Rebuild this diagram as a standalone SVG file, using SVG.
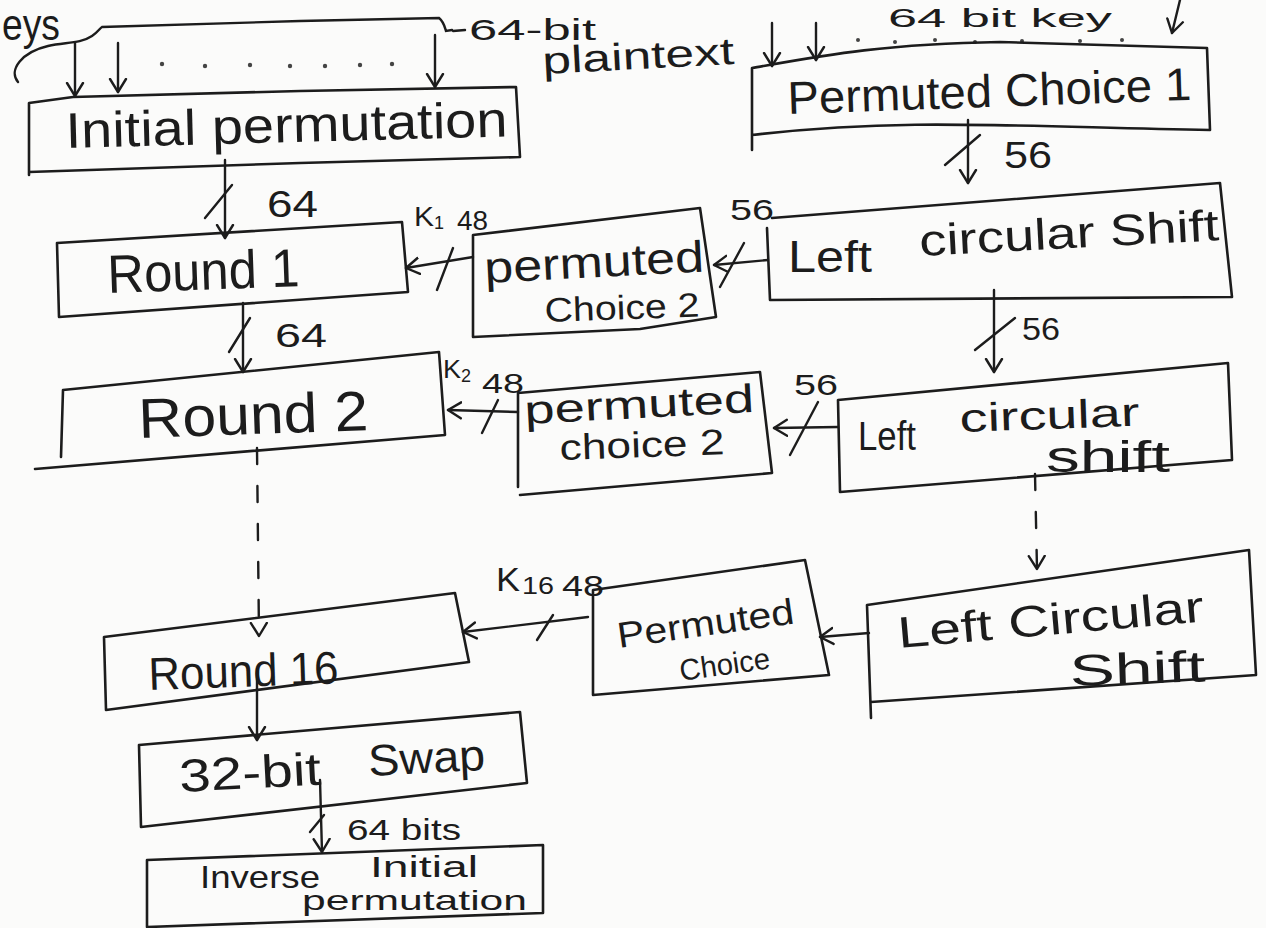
<svg xmlns="http://www.w3.org/2000/svg" width="1266" height="928" viewBox="0 0 1266 928">
  <defs>
    <marker id="arr" viewBox="-14 -10 16 20" markerWidth="16" markerHeight="20" refX="0" refY="0" orient="auto" markerUnits="userSpaceOnUse">
      <path d="M-13,-8 L0,0 L-13,8" fill="none" stroke="#1c1c1c" stroke-width="2.4" stroke-linecap="round" stroke-linejoin="round"/>
    </marker>
    <style>
      .box { fill: none; stroke: #1c1c1c; stroke-width: 2.6; stroke-linejoin: round; stroke-linecap: round; }
      .ln { fill: none; stroke: #1c1c1c; stroke-width: 2.4; stroke-linecap: round; }
      .dash { fill: none; stroke: #1c1c1c; stroke-width: 2.4; stroke-dasharray: 16 22; stroke-linecap: round; }
      .t { font-family: "Liberation Sans", "DejaVu Sans", sans-serif; fill: #1c1c1c; }
      .dot { fill: #444; }
    </style>
  </defs>

  <rect width="1266" height="928" fill="#fbfbfa"/>

  <!-- plaintext input and its bit lines -->
  <g id="plaintext-input">
    <text class="t" x="2" y="40" font-size="44" textLength="58" lengthAdjust="spacingAndGlyphs">eys</text>
    <path class="ln" d="M18,82 C8,70 22,52 48,46 C66,42 80,44 92,36 C98,32 100,28 102,27 L300,21 L439,18 C444,22 445,28 446,31 L452,30"/>
    <path class="ln" d="M453,31 L465,30"/>
    <text class="t" x="469" y="40" font-size="30" textLength="127" lengthAdjust="spacingAndGlyphs">64-bit</text>
    <text class="t" x="543" y="74" font-size="38" textLength="192" lengthAdjust="spacingAndGlyphs" transform="rotate(-3 543 74)">plaintext</text>
    <circle class="dot" cx="162" cy="64" r="2.2"/>
    <circle class="dot" cx="205" cy="66" r="2.2"/>
    <circle class="dot" cx="250" cy="65" r="2.2"/>
    <circle class="dot" cx="290" cy="66" r="2.2"/>
    <circle class="dot" cx="325" cy="66" r="2.2"/>
    <circle class="dot" cx="360" cy="65" r="2.2"/>
    <circle class="dot" cx="392" cy="64" r="2.2"/>
  </g>

  <!-- key input -->
  <g id="key-input">
    <text class="t" x="888" y="27" font-size="26" textLength="224" lengthAdjust="spacingAndGlyphs">64 bit key</text>
    <circle class="dot" cx="858" cy="40" r="2"/>
    <circle class="dot" cx="895" cy="42" r="2"/>
    <circle class="dot" cx="935" cy="40" r="2"/>
    <circle class="dot" cx="975" cy="42" r="2"/>
    <circle class="dot" cx="1022" cy="41" r="2"/>
    <circle class="dot" cx="1080" cy="41" r="2"/>
    <circle class="dot" cx="1122" cy="40" r="2"/>
  </g>

  <g id="initial-permutation">
    <path class="box" d="M29,175 L29,103 L73,97 L300,91 L516,87 L520,157 L300,163 L29,172"/>
    <text class="t" x="66" y="148" font-size="50" textLength="442" lengthAdjust="spacingAndGlyphs" transform="rotate(-1.5 66 148)">Initial permutation</text>
  </g>

  <g id="permuted-choice-1">
    <path class="box" d="M752,150 L752,68 C820,56 880,44 1000,42 L1207,48 L1210,130 C1000,126 900,118 752,135"/>
    <text class="t" x="788" y="114" font-size="46" textLength="404" lengthAdjust="spacingAndGlyphs" transform="rotate(-2 788 114)">Permuted Choice 1</text>
  </g>

  <g id="round-1">
    <path class="box" d="M57,243 L402,222 L408,292 L59,317 Z"/>
    <text class="t" x="108" y="293" font-size="54" textLength="192" lengthAdjust="spacingAndGlyphs" transform="rotate(-2 108 293)">Round 1</text>
  </g>

  <g id="permuted-choice-2a">
    <path class="box" d="M473,337 L473,235 L700,208 L716,317 L640,329 Z"/>
    <text class="t" x="485" y="283" font-size="44" textLength="220" lengthAdjust="spacingAndGlyphs" transform="rotate(-3 485 283)">permuted</text>
    <text class="t" x="545" y="322" font-size="34" textLength="155" lengthAdjust="spacingAndGlyphs" transform="rotate(-2 545 322)">Choice 2</text>
  </g>

  <g id="left-circular-shift-1">
    <path class="box" d="M767,228 L770,300 L1232,297 L1220,183 L772,218"/>
    <text class="t" x="788" y="272" font-size="44" textLength="84" lengthAdjust="spacingAndGlyphs">Left</text>
    <text class="t" x="920" y="256" font-size="44" textLength="300" lengthAdjust="spacingAndGlyphs" transform="rotate(-3 920 256)">circular Shift</text>
  </g>

  <g id="round-2">
    <path class="box" d="M61,457 L63,390 L439,352 L445,435 L35,469"/>
    <text class="t" x="139" y="438" font-size="56" textLength="230" lengthAdjust="spacingAndGlyphs" transform="rotate(-2 139 438)">Round 2</text>
  </g>

  <g id="permuted-choice-2b">
    <path class="box" d="M518,487 L518,393 L760,372 L772,473 L520,495"/>
    <text class="t" x="525" y="424" font-size="40" textLength="230" lengthAdjust="spacingAndGlyphs" transform="rotate(-3 525 424)">permuted</text>
    <text class="t" x="560" y="460" font-size="36" textLength="165" lengthAdjust="spacingAndGlyphs" transform="rotate(-2 560 460)">choice 2</text>
  </g>

  <g id="left-circular-shift-2">
    <path class="box" d="M838,400 L1228,363 L1232,460 L840,492 Z"/>
    <text class="t" x="858" y="450" font-size="40" textLength="58" lengthAdjust="spacingAndGlyphs">Left</text>
    <text class="t" x="960" y="432" font-size="40" textLength="180" lengthAdjust="spacingAndGlyphs" transform="rotate(-2 960 432)">circular</text>
    <text class="t" x="1046" y="472" font-size="44" textLength="124" lengthAdjust="spacingAndGlyphs">shift</text>
  </g>

  <g id="round-16">
    <path class="box" d="M104,637 L455,593 L469,662 L106,710 Z"/>
    <text class="t" x="149" y="690" font-size="46" textLength="190" lengthAdjust="spacingAndGlyphs" transform="rotate(-2 149 690)">Round 16</text>
  </g>

  <g id="permuted-choice-16">
    <path class="box" d="M593,695 L593,590 L805,560 L829,675 Z"/>
    <text class="t" x="619" y="648" font-size="36" textLength="178" lengthAdjust="spacingAndGlyphs" transform="rotate(-8 619 648)">Permuted</text>
    <text class="t" x="681" y="681" font-size="30" textLength="91" lengthAdjust="spacingAndGlyphs" transform="rotate(-8 681 681)">Choice</text>
  </g>

  <g id="left-circular-shift-16">
    <path class="box" d="M871,718 L867,605 L1249,550 L1256,675 L871,702"/>
    <text class="t" x="899" y="648" font-size="44" textLength="307" lengthAdjust="spacingAndGlyphs" transform="rotate(-5 899 648)">Left Circular</text>
    <text class="t" x="1070" y="686" font-size="44" textLength="136" lengthAdjust="spacingAndGlyphs" transform="rotate(-2 1070 686)">Shift</text>
  </g>

  <g id="swap-32bit">
    <path class="box" d="M139,745 L520,712 L527,783 L141,827 Z"/>
    <text class="t" x="180" y="792" font-size="46" textLength="142" lengthAdjust="spacingAndGlyphs" transform="rotate(-3 180 792)">32-bit</text>
    <text class="t" x="369" y="776" font-size="44" textLength="117" lengthAdjust="spacingAndGlyphs" transform="rotate(-3 369 776)">Swap</text>
  </g>

  <g id="inverse-initial-permutation">
    <path class="box" d="M147,860 L543,845 L543,913 L147,927 Z"/>
    <text class="t" x="200" y="888" font-size="32" textLength="120" lengthAdjust="spacingAndGlyphs">Inverse</text>
    <text class="t" x="370" y="877" font-size="30" textLength="108" lengthAdjust="spacingAndGlyphs">Initial</text>
    <text class="t" x="302" y="910" font-size="28" textLength="225" lengthAdjust="spacingAndGlyphs">permutation</text>
  </g>

  <!-- connectors: bit lines, data path and key schedule -->
  <g id="connectors">
    <!-- plaintext bits into initial permutation -->
    <path class="ln" d="M75,43 L75,96" marker-end="url(#arr)"/>
    <path class="ln" d="M118,43 L118,92" marker-end="url(#arr)"/>
    <path class="ln" d="M435,35 L435,87" marker-end="url(#arr)"/>
    <!-- key bits into permuted choice 1 -->
    <path class="ln" d="M772,23 L772,66" marker-end="url(#arr)"/>
    <path class="ln" d="M816,23 L816,60" marker-end="url(#arr)"/>
    <path class="ln" d="M1180,0 L1172,33" marker-end="url(#arr)"/>

    <!-- data path -->
    <path class="ln" d="M225,160 L225,238" marker-end="url(#arr)"/>
    <path class="ln" d="M205,218 L232,185"/>
    <text class="t" x="267" y="217" font-size="36" textLength="51" lengthAdjust="spacingAndGlyphs">64</text>

    <path class="ln" d="M243,303 L243,372" marker-end="url(#arr)"/>
    <path class="ln" d="M229,352 L250,318"/>
    <text class="t" x="275" y="347" font-size="34" textLength="52" lengthAdjust="spacingAndGlyphs">64</text>

    <path class="dash" d="M257,448 L259,636" marker-end="url(#arr)"/>

    <path class="ln" d="M257,672 L257,740" marker-end="url(#arr)"/>

    <path class="ln" d="M320,780 L322,852" marker-end="url(#arr)"/>
    <path class="ln" d="M310,832 L324,815"/>
    <text class="t" x="347" y="840" font-size="30" textLength="114" lengthAdjust="spacingAndGlyphs">64 bits</text>

    <!-- key schedule -->
    <path class="ln" d="M968,120 L968,183" marker-end="url(#arr)"/>
    <path class="ln" d="M945,165 L980,135"/>
    <text class="t" x="1004" y="168" font-size="36" textLength="48" lengthAdjust="spacingAndGlyphs">56</text>

    <path class="ln" d="M994,290 L994,372" marker-end="url(#arr)"/>
    <path class="ln" d="M975,350 L1015,318"/>
    <text class="t" x="1022" y="340" font-size="32" textLength="38" lengthAdjust="spacingAndGlyphs">56</text>

    <path class="dash" d="M1035,474 L1037,569" marker-end="url(#arr)"/>

    <!-- shift outputs into permuted choice 2 -->
    <path class="ln" d="M768,260 L714,265" marker-end="url(#arr)"/>
    <path class="ln" d="M720,287 L744,243"/>
    <text class="t" x="730" y="220" font-size="30" textLength="44" lengthAdjust="spacingAndGlyphs">56</text>

    <path class="ln" d="M838,427 L774,428" marker-end="url(#arr)"/>
    <path class="ln" d="M790,455 L818,402"/>
    <text class="t" x="794" y="395" font-size="30" textLength="44" lengthAdjust="spacingAndGlyphs">56</text>

    <path class="ln" d="M869,633 L820,637" marker-end="url(#arr)"/>

    <!-- subkeys into rounds -->
    <path class="ln" d="M473,257 L406,268" marker-end="url(#arr)"/>
    <path class="ln" d="M437,290 L453,248"/>
    <text class="t" x="414" y="226" font-size="28" textLength="20" lengthAdjust="spacingAndGlyphs">K</text>
    <text class="t" x="434" y="229" font-size="18">1</text>
    <text class="t" x="457" y="230" font-size="28" textLength="31" lengthAdjust="spacingAndGlyphs">48</text>

    <path class="ln" d="M518,412 L448,410" marker-end="url(#arr)"/>
    <path class="ln" d="M482,433 L498,400"/>
    <text class="t" x="443" y="378" font-size="26" textLength="18" lengthAdjust="spacingAndGlyphs">K</text>
    <text class="t" x="461" y="382" font-size="18">2</text>
    <text class="t" x="482" y="393" font-size="28" textLength="42" lengthAdjust="spacingAndGlyphs">48</text>

    <path class="ln" d="M588,617 L463,632" marker-end="url(#arr)"/>
    <path class="ln" d="M537,640 L553,615"/>
    <text class="t" x="496" y="591" font-size="34" textLength="24" lengthAdjust="spacingAndGlyphs">K</text>
    <text class="t" x="522" y="594" font-size="24" textLength="32" lengthAdjust="spacingAndGlyphs">16</text>
    <text class="t" x="562" y="596" font-size="30" textLength="42" lengthAdjust="spacingAndGlyphs">48</text>
  </g>
</svg>
